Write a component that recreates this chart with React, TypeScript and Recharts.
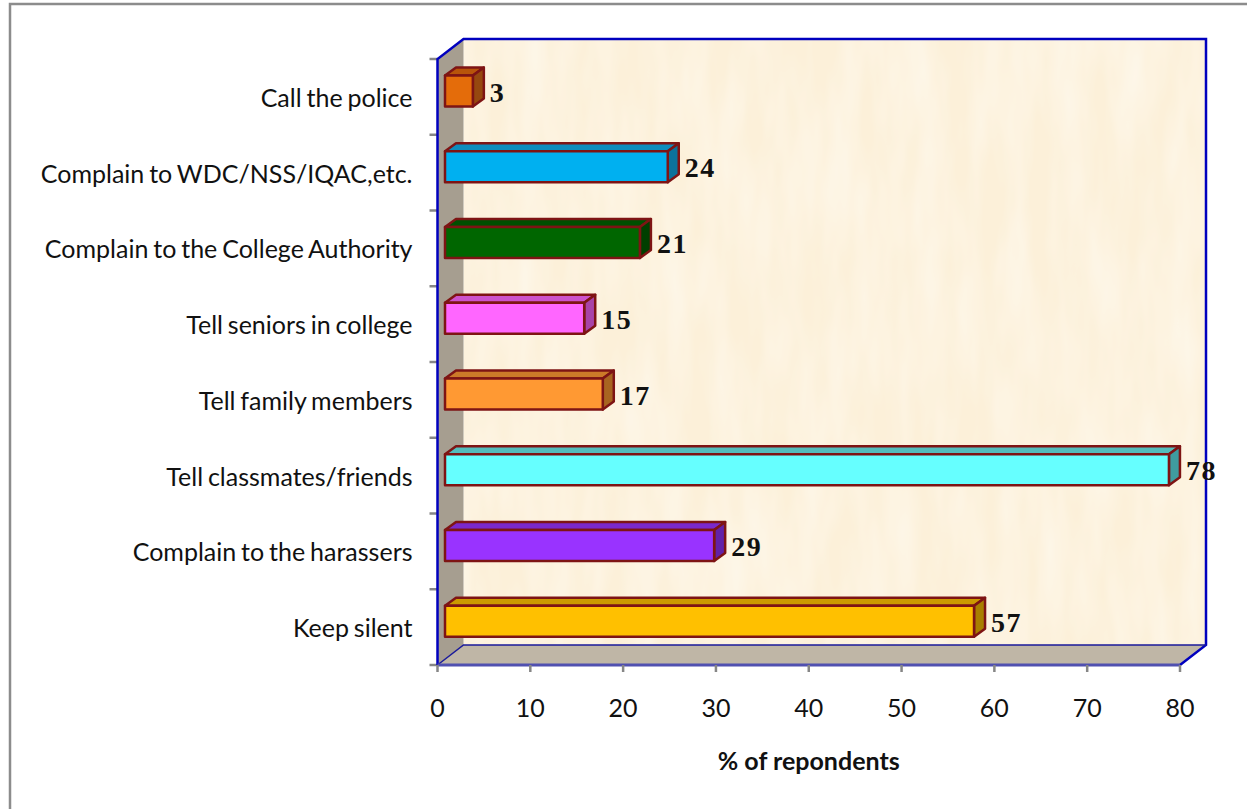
import React from "react";
import { BarChart, Bar, XAxis, YAxis, LabelList, Cell } from "recharts";

const categories = [
  "Call the police",
  "Complain to WDC/NSS/IQAC,etc.",
  "Complain to the College Authority",
  "Tell seniors in college",
  "Tell family members",
  "Tell classmates/friends",
  "Complain to the harassers",
  "Keep silent",
];
const values = [3, 24, 21, 15, 17, 78, 29, 57];
const colors = ["#E46C0A", "#00B0F0", "#006600", "#FF66FF", "#FF9933", "#66FFFF", "#9933FF", "#FFC000"];
const topColors = ["#B8540A", "#0E8DBD", "#004F00", "#CC52CC", "#CC7A29", "#52BDBD", "#7A29CC", "#CC9A00"];
const sideColors = ["#96480F", "#0B729B", "#003F00", "#A843A8", "#A86420", "#3F9C9F", "#6221A8", "#A87F00"];
const xTicks = [0, 10, 20, 30, 40, 50, 60, 70, 80];
const data = categories.map((name, i) => ({ name, value: values[i] }));

const L = 437.5, T = 59, R = 1180, B = 665;
const DX = 26, DY = 20;
const BAR_DX = 11, BAR_DY = 8, SHIFT_X = 7.5, SHIFT_Y = -5.5;
const EDGE = "#7E1414";
const STEP = (B - T) / categories.length;

function Walls() {
  return (
    <g>
      <rect x="10" y="4" width="1260" height="830" fill="#fff" stroke="#8C8C8C" strokeWidth="2.5" />
      <rect x={L + DX} y={T - DY} width={R - L} height={B - T} fill="#FCF0D9" />
      <rect x={L + DX} y={T - DY} width={R - L} height={B - T} fill="#fff" filter="url(#grain)" />
      <polygon points={`${L},${T} ${L + DX},${T - DY} ${L + DX},${B - DY} ${L},${B}`} fill="#A69E90" />
      <polygon points={`${L},${B} ${L + DX},${B - DY} ${R + DX},${B - DY} ${R},${B}`} fill="#BFB6A6" />
      {categories.map((c, i) => (
        <line key={c} x1={L - 8} x2={L} y1={T + i * STEP} y2={T + i * STEP} stroke="#868686" strokeWidth="2.5" />
      ))}
      <line x1={L - 8} x2={L} y1={B} y2={B} stroke="#868686" strokeWidth="2.5" />
      <polyline points={`${L},${B} ${L},${T} ${L + DX},${T - DY} ${R + DX},${T - DY} ${R + DX},${B - DY} ${R},${B}`} fill="none" stroke="#0000BE" strokeWidth="2.5" />
      <polyline points={`${L},${B} ${L + DX},${B - DY} ${R + DX},${B - DY}`} fill="none" stroke="#1A1A9A" strokeWidth="1.5" />
      <line x1={L} y1={B} x2={R} y2={B} stroke="#5050B0" strokeWidth="3" />
    </g>
  );
}

function Box3D(props: any) {
  const { x, y, width, height, index } = props;
  const x0 = x + SHIFT_X, y0 = y + SHIFT_Y, w = width, h = height;
  return (
    <g stroke={EDGE} strokeWidth="2.5" strokeLinejoin="round">
      <polygon points={`${x0},${y0} ${x0 + BAR_DX},${y0 - BAR_DY} ${x0 + w + BAR_DX},${y0 - BAR_DY} ${x0 + w},${y0}`} fill={topColors[index]} />
      <polygon points={`${x0 + w},${y0} ${x0 + w + BAR_DX},${y0 - BAR_DY} ${x0 + w + BAR_DX},${y0 + h - BAR_DY} ${x0 + w},${y0 + h}`} fill={sideColors[index]} />
      <rect x={x0} y={y0} width={w} height={h} fill={colors[index]} />
    </g>
  );
}

function ValueLabel(props: any) {
  const { x, y, width, height, value } = props;
  return (
    <text
      x={x + width + SHIFT_X + BAR_DX + 6}
      y={y + SHIFT_Y + height / 2 + 1}
      dominantBaseline="central"
      fontFamily="'Liberation Serif'"
      fontWeight="bold"
      fontSize="28"
      letterSpacing="1.5"
      fill="#111"
    >
      {value}
    </text>
  );
}

export default function App() {
  return (
    <div style={{ position: "absolute", left: 0, top: 0, width: 1247, height: 809, overflow: "hidden" }}>
      <BarChart
        width={1247}
        height={809}
        data={data}
        layout="vertical"
        barSize={31}
        margin={{ top: T, right: 1247 - R, bottom: 0, left: 0 }}
      >
        <defs>
          <filter id="grain" x="0" y="0" width="1" height="1">
            <feTurbulence type="fractalNoise" baseFrequency="0.035 0.008" numOctaves="3" seed="4" />
            <feColorMatrix type="matrix" values="0 0 0 0 1  0 0 0 0 0.98  0 0 0 0 0.93  0.8 0 0 0 -0.22" />
          </filter>
        </defs>
        <Walls />
        <XAxis
          type="number"
          domain={[0, 80]}
          ticks={xTicks}
          height={809 - B}
          interval={0}
          axisLine={false}
          tick={{ fill: "#111", fontSize: 25, fontFamily: "Lato", dy: 25 }}
          tickLine={{ stroke: "#868686", strokeWidth: 2.5 }}
          tickSize={7}
          label={{ value: "% of repondents", position: "insideBottom", offset: 39, style: { fontFamily: "Lato", fontWeight: "bold", fontSize: 25, fill: "#111" } }}
        />
        <YAxis
          type="category"
          dataKey="name"
          width={L}
          interval={0}
          axisLine={false}
          tick={{ fill: "#111", fontSize: 25, fontFamily: "Lato", wordSpacing: -1.5, dx: -17, dy: 1 }}
          tickLine={false}
        />
        <Bar dataKey="value" isAnimationActive={false} shape={<Box3D />}>
          {data.map((d, i) => (
            <Cell key={d.name} fill={colors[i]} />
          ))}
          <LabelList dataKey="value" content={<ValueLabel />} />
        </Bar>
      </BarChart>
    </div>
  );
}
